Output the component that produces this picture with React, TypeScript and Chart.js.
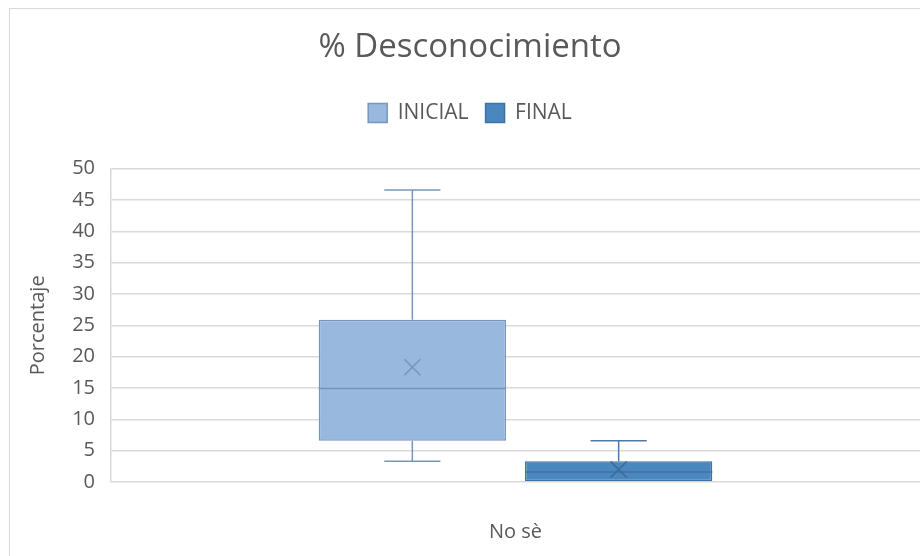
import React, { useEffect, useRef } from "react";
import { Chart, registerables } from "chart.js";

Chart.register(...registerables);

const categories = ["No sè"];
const seriesNames = ["INICIAL", "FINAL"];
const minVals = [3.3, 0];
const q1Vals = [6.6, 0];
const medianVals = [14.9, 1.6];
const q3Vals = [25.9, 3.3];
const maxVals = [46.6, 6.6];
const meanVals = [18.3, 2.0];
const yTicks = [0, 5, 10, 15, 20, 25, 30, 35, 40, 45, 50];

const fills = ["#98b8de", "#4a87bf"];
const borders = ["#7895bd", "#3f72a3"];
const whiskerColors = ["#7895bd", "#4a7bab"];
const meanColors = ["#7a93b6", "#3c6a98"];

const FONT = "'Open Sans', sans-serif";
const TEXT = "#595959";

const boxPlugin = {
  id: "boxWhiskers",
  afterDatasetsDraw(chart: any) {
    const ctx = chart.ctx;
    const yScale = chart.scales.y;
    chart.data.datasets.forEach((_ds: any, i: number) => {
      const meta = chart.getDatasetMeta(i);
      meta.data.forEach((bar: any) => {
        const x = bar.x;
        const w = bar.width;
        const yMin = yScale.getPixelForValue(minVals[i]);
        const yQ1 = yScale.getPixelForValue(q1Vals[i]);
        const yMed = yScale.getPixelForValue(medianVals[i]);
        const yQ3 = yScale.getPixelForValue(q3Vals[i]);
        const yMax = yScale.getPixelForValue(maxVals[i]);
        const yMean = yScale.getPixelForValue(meanVals[i]);
        const cap = w * 0.3;
        ctx.save();
        ctx.strokeStyle = whiskerColors[i];
        ctx.lineWidth = 1.5;
        ctx.beginPath();
        if (maxVals[i] > q3Vals[i]) {
          ctx.moveTo(x, yQ3);
          ctx.lineTo(x, yMax);
          ctx.moveTo(x - cap / 2, yMax);
          ctx.lineTo(x + cap / 2, yMax);
        }
        if (minVals[i] < q1Vals[i]) {
          ctx.moveTo(x, yQ1);
          ctx.lineTo(x, yMin);
          ctx.moveTo(x - cap / 2, yMin);
          ctx.lineTo(x + cap / 2, yMin);
        }
        ctx.stroke();
        ctx.strokeStyle = borders[i];
        ctx.beginPath();
        ctx.moveTo(x - w / 2, yMed);
        ctx.lineTo(x + w / 2, yMed);
        ctx.stroke();
        const s = 8;
        ctx.strokeStyle = meanColors[i];
        ctx.lineWidth = 1.5;
        ctx.beginPath();
        ctx.moveTo(x - s, yMean - s);
        ctx.lineTo(x + s, yMean + s);
        ctx.moveTo(x + s, yMean - s);
        ctx.lineTo(x - s, yMean + s);
        ctx.stroke();
        ctx.restore();
      });
    });
  },
};

export default function App() {
  const ref = useRef<HTMLCanvasElement>(null);
  useEffect(() => {
    if (!ref.current) return;
    const chart = new Chart(ref.current, {
      type: "bar",
      data: {
        labels: categories,
        datasets: seriesNames.map((name, i) => ({
          label: name,
          data: categories.map(() => [q1Vals[i], q3Vals[i]] as [number, number]),
          backgroundColor: fills[i],
          borderColor: borders[i],
          borderWidth: 1.5,
          borderSkipped: false,
          categoryPercentage: 0.51,
          barPercentage: 0.908,
        })),
      },
      options: {
        animation: false,
        responsive: false,
        maintainAspectRatio: false,
        layout: { padding: { left: 20, right: 0, top: 0, bottom: 12 } },
        plugins: {
          tooltip: { enabled: false },
          title: {
            display: true,
            text: "% Desconocimiento",
            color: TEXT,
            font: { family: FONT, size: 33, weight: "normal" },
            padding: { top: 28, bottom: 18 },
          },
          subtitle: {
            display: true,
            text: "",
            position: "top",
            weight: 500,
            font: { family: FONT, size: 10 },
            padding: { top: 0, bottom: 23 },
          } as any,
          legend: {
            display: true,
            position: "top",
            labels: {
              color: TEXT,
              font: { family: FONT, size: 21 },
              boxWidth: 19,
              boxHeight: 19,
              padding: 17,
              useBorderRadius: false,
            },
          },
        },
        scales: {
          x: {
            grid: { display: false, drawTicks: false },
            border: { display: false },
            ticks: {
              color: TEXT,
              font: { family: FONT, size: 20 },
              padding: 38,
            },
            afterFit: (scale: any) => {
              scale.height = 62;
            },
          },
          y: {
            min: 0,
            max: 50,
            afterBuildTicks: (scale: any) => {
              scale.ticks = yTicks.map((v) => ({ value: v }));
            },
            grid: { color: "#d9d9d9", lineWidth: 1.5, drawTicks: false },
            border: { display: true, color: "#d9d9d9", width: 1.5 },
            ticks: {
              color: TEXT,
              font: { family: FONT, size: 20 },
              padding: 16,
            },
            title: {
              display: true,
              text: "Porcentaje",
              color: TEXT,
              font: { family: FONT, size: 20 },
              padding: { top: 6, bottom: 0 },
            },
            afterFit: (scale: any) => {
              scale.width = 91;
            },
          },
        },
      },
      plugins: [boxPlugin],
    });
    return () => chart.destroy();
  }, []);

  return (
    <div
      style={{
        position: "fixed",
        left: 0,
        top: 0,
        width: 920,
        height: 556,
        overflow: "hidden",
        background: "#ffffff",
      }}
    >
      <div
        style={{
          position: "absolute",
          left: 9,
          top: 8,
          width: 1000,
          height: 1000,
          border: "1px solid #d9d9d9",
        }}
      />
      <canvas
        ref={ref}
        width={920}
        height={556}
        style={{ position: "absolute", left: 0, top: 0, width: 920, height: 556 }}
      />
    </div>
  );
}
